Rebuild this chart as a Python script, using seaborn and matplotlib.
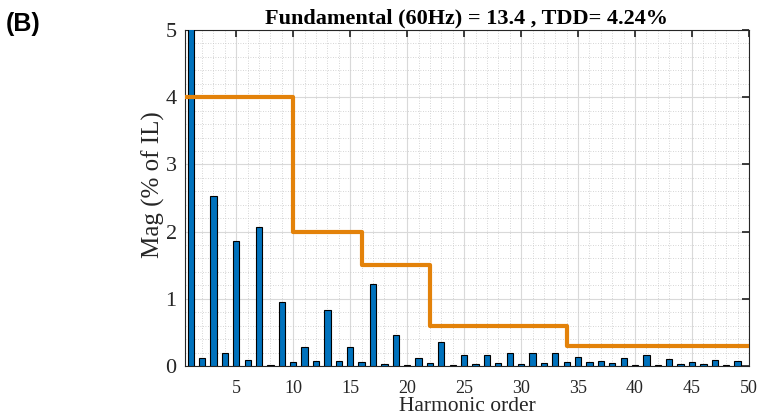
import matplotlib
matplotlib.use("Agg")
import matplotlib.pyplot as plt
import seaborn as sns
import numpy as np
import pandas as pd
from matplotlib.ticker import MultipleLocator

harmonics = list(range(1, 50))
magnitudes = [40.0, 0.124, 2.53, 0.20, 1.855, 0.094, 2.07, 0.015, 0.95, 0.064,
              0.28, 0.07, 0.84, 0.08, 0.28, 0.064, 1.225, 0.035, 0.456, 0.02,
              0.12, 0.04, 0.36, 0.02, 0.17, 0.025, 0.16, 0.04, 0.20, 0.025,
              0.20, 0.04, 0.19, 0.055, 0.134, 0.055, 0.07, 0.04, 0.124, 0.015,
              0.17, 0.015, 0.11, 0.025, 0.06, 0.035, 0.094, 0.015, 0.07]
limit_x = [0.5, 10, 16, 22, 34, 50]
limit_y = [4, 2, 1.5, 0.6, 0.3, 0.3]
xtick_values = [5, 10, 15, 20, 25, 30, 35, 40, 45, 50]

title = "Fundamental (60Hz) = 13.4 , TDD= 4.24%"

sns.set_theme(style="white")
plt.rcParams['font.family'] = ['Liberation Serif', 'DejaVu Serif']

fig = plt.figure(figsize=(7.61, 4.16), dpi=100)
ax = fig.add_axes([0.2431, 0.1202, 0.7411, 0.8077])

df = pd.DataFrame({"h": harmonics, "mag": magnitudes})
sns.barplot(data=df, x="h", y="mag", native_scale=True, width=0.55,
            color="#0072BD", saturation=1, edgecolor="black", linewidth=0.8,
            ax=ax, zorder=3)
lim = pd.DataFrame({"x": limit_x, "y": limit_y})
sns.lineplot(data=lim, x="x", y="y", drawstyle="steps-post", color="#E3820A",
             linewidth=3.0, estimator=None, ax=ax, zorder=4)

ax.set_xlim(0.5, 50)
ax.set_ylim(0, 5)
ax.xaxis.set_major_locator(MultipleLocator(5))
ax.xaxis.set_minor_locator(MultipleLocator(1))
ax.yaxis.set_major_locator(MultipleLocator(1))
ax.yaxis.set_minor_locator(MultipleLocator(0.2))
ax.grid(True, which="major", color="#D9D9D9", linewidth=0.8, zorder=0)
ax.grid(True, which="minor", color="#C8C8C8", linestyle=(0, (1, 2)), linewidth=0.6, zorder=0)
ax.set_axisbelow(True)
ax.tick_params(which="major", direction="in", top=True, right=True, length=5,
               color="#262626", labelcolor="#262626")
ax.tick_params(axis="x", which="major", labelsize=13, pad=10)
ax.tick_params(axis="y", which="major", labelsize=16, pad=6)
ax.tick_params(which="minor", length=0)
ax.set_xticks(xtick_values)
ax.set_xticklabels([str(v) for v in xtick_values])
for s in ax.spines.values():
    s.set_color("#262626")
    s.set_linewidth(0.8)

ax.set_xlabel("Harmonic order", fontsize=15.5, labelpad=0, color="#262626")
ax.set_ylabel("Mag (% of IL)", fontsize=18, color="#262626")
ax.yaxis.set_label_coords(-0.035, 0.539)
ax.set_title(title, fontsize=16, fontweight="bold", pad=5, color="black")
fig.text(0.007, 0.925, "(B)", fontsize=18, fontweight="bold",
         family=["Liberation Sans", "DejaVu Sans"], color="black")

fig.savefig("out.png", dpi=100)
